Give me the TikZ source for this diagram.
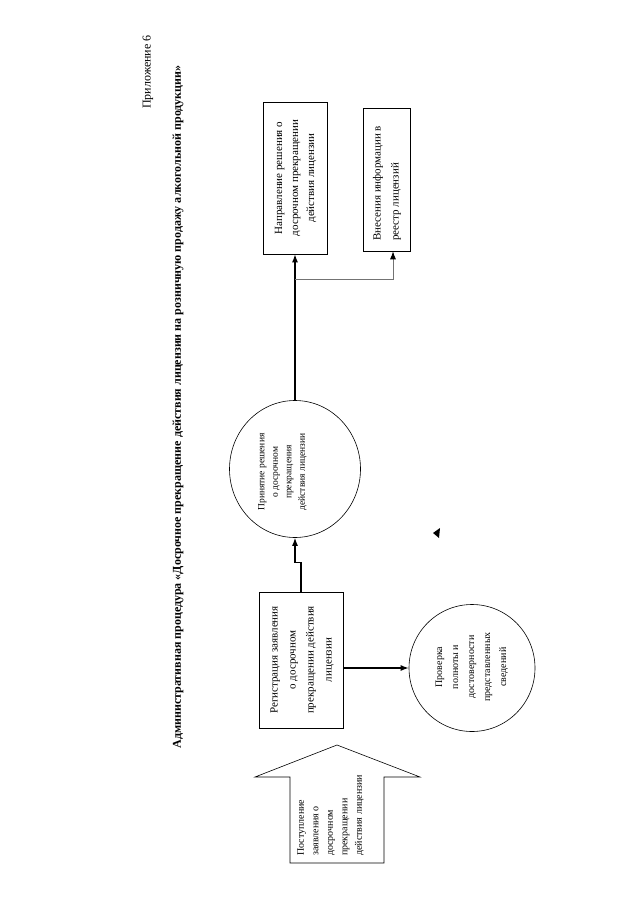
\documentclass[tikz,border=0pt]{standalone}
\usepackage{fontspec}
\setmainfont{Liberation Serif}
\usepackage{graphicx}
\usetikzlibrary{arrows.meta,shapes.geometric}
\newcommand{\vtxt}[4]{\rotatebox{90}{\fontsize{#2}{#3}\selectfont\begin{tabular}{@{}#1@{}}#4\end{tabular}}}
\tikzset{
  box/.style={draw, line width=0.6pt, inner sep=0pt},
  conn/.style={line width=1.3pt, -{Latex[length=8pt,width=6pt]}},
  branch/.style={draw=black!55, line width=0.9pt, -{Latex[length=8pt,width=6pt,fill=black,color=black]}},
  plain/.style={inner sep=0pt}
}
\begin{document}
\begin{tikzpicture}[x=1pt,y=-1pt]
\useasboundingbox (0,0) rectangle (640,904);
% headers
\node[plain,rotate=90] (app) at (148,72) {\fontsize{12}{14}\selectfont Приложение 6};
\node[plain,rotate=90] (title) at (178,407) {\bfseries\fontsize{12}{14}\selectfont Административная процедура «Досрочное прекращение действия лицензии на розничную продажу алкогольной продукции»};
% block arrow
\draw[box] (290,863) -- (290,777) -- (255,777) -- (337,745) -- (420,777) -- (384,777) -- (384,863) -- cycle;
\node[plain,anchor=south] (arrtxt) at (330,856) {\vtxt{l}{10}{14.5}{Поступление\\заявления о\\досрочном\\прекращении\\действия лицензии}};
% boxes
\node[box,minimum width=84pt,minimum height=136pt] (reg) at (301,660) {\vtxt{c}{11}{18}{Регистрация заявления\\о досрочном\\прекращении действия\\лицензии}};
\node[box,minimum width=64pt,minimum height=152pt] (dir) at (295,178) {\vtxt{c}{11}{16}{Направление решения о\\досрочном прекращении\\действия лицензии}};
\node[box,minimum width=47pt,minimum height=143pt] (vnes) at (386.5,179.5) {};
\node[plain,anchor=south] (vnestxt) at (386,241) {\vtxt{l}{11}{18}{Внесения информации в\\реестр лицензий}};
% ellipses
\node[box,ellipse,minimum width=131pt,minimum height=137pt] (dec) at (295,469) {};
\node[plain] (dectxt) at (282,472) {\vtxt{c}{9.5}{13.5}{Принятие решения\\о досрочном\\прекращения\\действия лицензии}};
\node[box,ellipse,minimum width=126pt,minimum height=127pt] (chk) at (472,668) {};
\node[plain] (chktxt) at (471,667) {\vtxt{c}{10}{16}{Проверка\\полноты и\\достоверности\\представленных\\сведений}};
% connectors
\draw[conn] (reg.north) -- ++(0,-29) -| (dec.south);
\draw[conn] (dec.north) -- (dir.south);
\coordinate (split) at (295,279);
\draw[branch] (split) -| ([xshift=6.5pt]vnes.south);
\draw[conn] (reg.east |- chk.west) -- (chk.west);
% stray arrowhead
\fill (433,533) -- (440,528) -- (439,538) -- cycle;
\end{tikzpicture}
\end{document}
